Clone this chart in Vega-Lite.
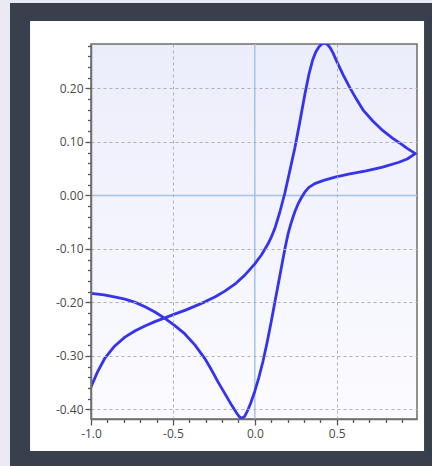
{
  "$schema": "https://vega.github.io/schema/vega-lite/v6.json",
  "width": 326,
  "height": 375,
  "autosize": "none",
  "padding": {"left": 91, "top": 44, "right": 15, "bottom": 47},
  "background": "#e9eaf4",
  "config": {"view": {"stroke": null}},
  "data": {"values": [{}]},
  "datasets": {
    "cv": [
      {"step": 0, "potential": -1.0, "current": -0.358},
      {"step": 1, "potential": -0.96, "current": -0.330},
      {"step": 2, "potential": -0.915, "current": -0.304},
      {"step": 3, "potential": -0.86, "current": -0.283},
      {"step": 4, "potential": -0.793, "current": -0.265},
      {"step": 5, "potential": -0.73, "current": -0.253},
      {"step": 6, "potential": -0.671, "current": -0.244},
      {"step": 7, "potential": -0.61, "current": -0.236},
      {"step": 8, "potential": -0.549, "current": -0.229},
      {"step": 9, "potential": -0.49, "current": -0.222},
      {"step": 10, "potential": -0.427, "current": -0.215},
      {"step": 11, "potential": -0.365, "current": -0.207},
      {"step": 12, "potential": -0.305, "current": -0.199},
      {"step": 13, "potential": -0.244, "current": -0.190},
      {"step": 14, "potential": -0.183, "current": -0.179},
      {"step": 15, "potential": -0.122, "current": -0.166},
      {"step": 16, "potential": -0.061, "current": -0.149},
      {"step": 17, "potential": 0.0, "current": -0.128},
      {"step": 18, "potential": 0.041, "current": -0.111},
      {"step": 19, "potential": 0.08, "current": -0.091},
      {"step": 20, "potential": 0.102, "current": -0.077},
      {"step": 21, "potential": 0.122, "current": -0.062},
      {"step": 22, "potential": 0.152, "current": -0.032},
      {"step": 23, "potential": 0.183, "current": 0.004},
      {"step": 24, "potential": 0.213, "current": 0.045},
      {"step": 25, "potential": 0.244, "current": 0.088},
      {"step": 26, "potential": 0.274, "current": 0.136},
      {"step": 27, "potential": 0.305, "current": 0.188},
      {"step": 28, "potential": 0.33, "current": 0.226},
      {"step": 29, "potential": 0.352, "current": 0.252},
      {"step": 30, "potential": 0.372, "current": 0.268},
      {"step": 31, "potential": 0.392, "current": 0.278},
      {"step": 32, "potential": 0.41, "current": 0.283},
      {"step": 33, "potential": 0.427, "current": 0.285},
      {"step": 34, "potential": 0.444, "current": 0.282},
      {"step": 35, "potential": 0.46, "current": 0.276},
      {"step": 36, "potential": 0.478, "current": 0.266},
      {"step": 37, "potential": 0.498, "current": 0.252},
      {"step": 38, "potential": 0.54, "current": 0.225},
      {"step": 39, "potential": 0.579, "current": 0.202},
      {"step": 40, "potential": 0.62, "current": 0.180},
      {"step": 41, "potential": 0.66, "current": 0.160},
      {"step": 42, "potential": 0.72, "current": 0.139},
      {"step": 43, "potential": 0.782, "current": 0.121},
      {"step": 44, "potential": 0.84, "current": 0.107},
      {"step": 45, "potential": 0.884, "current": 0.098},
      {"step": 46, "potential": 0.93, "current": 0.088},
      {"step": 47, "potential": 0.98, "current": 0.078},
      {"step": 48, "potential": 0.93, "current": 0.068},
      {"step": 49, "potential": 0.88, "current": 0.062},
      {"step": 50, "potential": 0.78, "current": 0.053},
      {"step": 51, "potential": 0.68, "current": 0.046},
      {"step": 52, "potential": 0.58, "current": 0.040},
      {"step": 53, "potential": 0.49, "current": 0.034},
      {"step": 54, "potential": 0.42, "current": 0.028},
      {"step": 55, "potential": 0.366, "current": 0.022},
      {"step": 56, "potential": 0.33, "current": 0.015},
      {"step": 57, "potential": 0.305, "current": 0.006},
      {"step": 58, "potential": 0.285, "current": -0.004},
      {"step": 59, "potential": 0.264, "current": -0.016},
      {"step": 60, "potential": 0.245, "current": -0.030},
      {"step": 61, "potential": 0.234, "current": -0.040},
      {"step": 62, "potential": 0.218, "current": -0.055},
      {"step": 63, "potential": 0.203, "current": -0.072},
      {"step": 64, "potential": 0.185, "current": -0.098},
      {"step": 65, "potential": 0.168, "current": -0.125},
      {"step": 66, "potential": 0.145, "current": -0.163},
      {"step": 67, "potential": 0.122, "current": -0.200},
      {"step": 68, "potential": 0.10, "current": -0.236},
      {"step": 69, "potential": 0.075, "current": -0.275},
      {"step": 70, "potential": 0.05, "current": -0.310},
      {"step": 71, "potential": 0.025, "current": -0.340},
      {"step": 72, "potential": 0.0, "current": -0.366},
      {"step": 73, "potential": -0.025, "current": -0.388},
      {"step": 74, "potential": -0.045, "current": -0.403},
      {"step": 75, "potential": -0.062, "current": -0.413},
      {"step": 76, "potential": -0.08, "current": -0.417},
      {"step": 77, "potential": -0.097, "current": -0.413},
      {"step": 78, "potential": -0.115, "current": -0.405},
      {"step": 79, "potential": -0.142, "current": -0.392},
      {"step": 80, "potential": -0.18, "current": -0.372},
      {"step": 81, "potential": -0.224, "current": -0.349},
      {"step": 82, "potential": -0.265, "current": -0.326},
      {"step": 83, "potential": -0.305, "current": -0.305},
      {"step": 84, "potential": -0.365, "current": -0.280},
      {"step": 85, "potential": -0.427, "current": -0.259},
      {"step": 86, "potential": -0.49, "current": -0.243},
      {"step": 87, "potential": -0.549, "current": -0.230},
      {"step": 88, "potential": -0.61, "current": -0.218},
      {"step": 89, "potential": -0.67, "current": -0.208},
      {"step": 90, "potential": -0.73, "current": -0.200},
      {"step": 91, "potential": -0.793, "current": -0.194},
      {"step": 92, "potential": -0.85, "current": -0.190},
      {"step": 93, "potential": -0.92, "current": -0.186},
      {"step": 94, "potential": -1.0, "current": -0.183}
    ]
  },
  "layer": [
    {
      "mark": {"type": "rect", "fill": "#39404d", "clip": false},
      "encoding": {
        "x": {
          "datum": -1.4945, "type": "quantitative", "title": null,
          "scale": {"domain": [-1, 0.99], "nice": false, "zero": false},
          "axis": {
            "zindex": 1,
            "tickCount": 200,
            "values": [-1, -0.9, -0.8, -0.7, -0.6, -0.5, -0.4, -0.3, -0.2, -0.1, 0, 0.1, 0.2, 0.3, 0.4, 0.5, 0.6, 0.7, 0.8, 0.9],
            "domainColor": "#6e6e6e", "domainWidth": 1.5,
            "tickColor": "#555555", "tickWidth": 1.3,
            "tickSize": {"condition": {"test": "abs(datum.value*2 - round(datum.value*2)) < 0.000001", "value": 6}, "value": 3.5},
            "labelExpr": "abs(datum.value*2 - round(datum.value*2)) < 0.000001 ? replace(format(datum.value, '.1f'), '\u2212', '-') : ''",
            "labelOverlap": false, "labelFlush": false,
            "labelFont": "Open Sans", "labelFontSize": 12, "labelColor": "#4a4a4a", "labelPadding": 3,
            "grid": true, "gridColor": "#b0b0b0", "gridDash": [3, 3], "gridWidth": 1,
            "gridOpacity": {"condition": {"test": "abs(datum.value*2 - round(datum.value*2)) < 0.000001 && abs(datum.value) > 0.000001", "value": 1}, "value": 0}
          }
        },
        "x2": {"datum": 1.2},
        "y": {
          "datum": 0.3597, "type": "quantitative", "title": null,
          "scale": {"domain": [-0.418, 0.283], "nice": false, "zero": false},
          "axis": {
            "zindex": 1,
            "tickCount": 200,
            "values": [-0.4, -0.38, -0.36, -0.34, -0.32, -0.3, -0.28, -0.26, -0.24, -0.22, -0.2, -0.18, -0.16, -0.14, -0.12, -0.1, -0.08, -0.06, -0.04, -0.02, 0, 0.02, 0.04, 0.06, 0.08, 0.1, 0.12, 0.14, 0.16, 0.18, 0.2, 0.22, 0.24, 0.26, 0.28],
            "domainColor": "#6e6e6e", "domainWidth": 1.5,
            "tickColor": "#555555", "tickWidth": 1.3,
            "tickSize": {"condition": {"test": "abs(datum.value*10 - round(datum.value*10)) < 0.000001", "value": 6}, "value": 3.5},
            "labelExpr": "abs(datum.value*10 - round(datum.value*10)) < 0.000001 ? replace(format(datum.value, '.2f'), '\u2212', '-') : ''",
            "labelOverlap": false, "labelFlush": false,
            "labelFont": "Open Sans", "labelFontSize": 12, "labelColor": "#4a4a4a", "labelPadding": 2,
            "grid": true, "gridColor": "#b0b0b0", "gridDash": [3, 3], "gridWidth": 1,
            "gridOpacity": {"condition": {"test": "abs(datum.value*10 - round(datum.value*10)) < 0.000001 && abs(datum.value) > 0.000001", "value": 1}, "value": 0}
          }
        },
        "y2": {"datum": -0.6}
      }
    },
    {
      "mark": {"type": "rect", "fill": "#ffffff", "clip": false},
      "encoding": {
        "x": {"datum": -1.372, "type": "quantitative", "title": null},
        "x2": {"datum": 1.033},
        "y": {"datum": 0.326, "type": "quantitative", "title": null},
        "y2": {"datum": -0.478}
      }
    },
    {
      "mark": {
        "type": "rect",
        "clip": false,
        "stroke": "#6e6e6e",
        "strokeWidth": 1.5,
        "fill": {
          "gradient": "linear", "x1": 0, "y1": 0, "x2": 0, "y2": 1,
          "stops": [{"offset": 0, "color": "#ecedfb"}, {"offset": 1, "color": "#fbfbff"}]
        }
      },
      "encoding": {
        "x": {"datum": -1, "type": "quantitative", "title": null},
        "x2": {"datum": 0.99},
        "y": {"datum": 0.283, "type": "quantitative", "title": null},
        "y2": {"datum": -0.418}
      }
    },
    {
      "mark": {"type": "rule", "color": "#a3c3ec", "strokeWidth": 1.5},
      "encoding": {"x": {"datum": 0, "type": "quantitative", "title": null}}
    },
    {
      "mark": {"type": "rule", "color": "#a3c3ec", "strokeWidth": 1.5},
      "encoding": {"y": {"datum": 0, "type": "quantitative", "title": null}}
    },
    {
      "data": {"name": "cv"},
      "mark": {"type": "line", "color": "#3434ee", "strokeWidth": 2.8, "strokeJoin": "round", "strokeCap": "round", "clip": true},
      "encoding": {
        "x": {"field": "potential", "type": "quantitative", "title": null},
        "y": {"field": "current", "type": "quantitative", "title": null},
        "order": {"field": "step", "type": "quantitative"}
      }
    }
  ]
}
